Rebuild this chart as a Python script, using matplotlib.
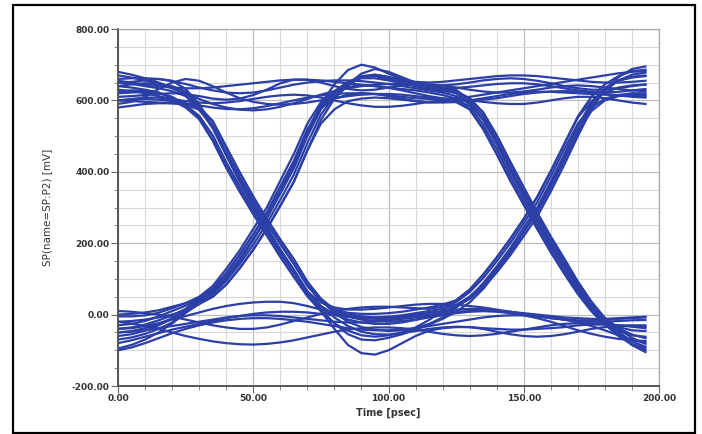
import numpy as np
import matplotlib.pyplot as plt
from matplotlib.patches import Rectangle
from matplotlib.ticker import MultipleLocator, FormatStrFormatter

# sample times (psec), one value every 5 ps for each trace
time_ps = np.arange(0, 200, 5)

# eye traces (mV)
tr01 = [-60, -55, -45, -30, -12, 8, 30, 58, 100, 150,
        210, 272, 345, 420, 510, 590, 645, 685, 700, 692,
        675, 660, 648, 640, 636, 635, 638, 642, 646, 648,
        648, 645, 640, 634, 628, 624, 622, 624, 628, 632]
tr02 = [-5, -5, -2, 5, 18, 32, 50, 80, 128, 180,
        240, 300, 375, 450, 535, 595, 625, 638, 642, 640,
        635, 628, 620, 612, 606, 602, 600, 602, 606, 612,
        618, 622, 625, 626, 625, 622, 618, 614, 610, 608]
tr03 = [-95, -85, -70, -50, -25, 5, 30, 50, 84, 130,
        182, 240, 305, 372, 460, 545, 605, 642, 665, 672,
        665, 655, 647, 643, 642, 645, 650, 656, 660, 662,
        660, 655, 648, 640, 634, 630, 630, 634, 640, 645]
tr04 = [-30, -26, -18, -5, 10, 25, 42, 66, 106, 156,
        212, 270, 340, 412, 502, 578, 625, 652, 662, 662,
        656, 648, 640, 634, 630, 620, 592, 545, 478, 402,
        332, 262, 196, 135, 74, 22, -20, -58, -85, -100]
tr05 = [0, 2, 6, 12, 22, 32, 45, 72, 116, 168,
        225, 285, 358, 430, 518, 578, 605, 616, 620, 618,
        612, 605, 598, 594, 596, 595, 575, 520, 450, 376,
        308, 240, 175, 115, 58, 10, -28, -45, -58, -62]
tr06 = [-70, -64, -54, -40, -22, 5, 35, 57, 95, 142,
        196, 255, 322, 392, 480, 560, 612, 646, 675, 688,
        680, 665, 650, 640, 634, 626, 606, 566, 502, 428,
        356, 285, 218, 156, 92, 36, -10, -50, -85, -105]
tr07 = [640, 636, 630, 622, 608, 585, 548, 488, 412, 345,
        282, 222, 162, 106, 52, 10, -40, -85, -108, -112,
        -100, -80, -60, -45, -38, -35, -35, -38, -40, -42,
        -42, -40, -38, -35, -30, -28, -28, -30, -32, -35]
tr08 = [600, 598, 596, 594, 592, 588, 574, 528, 455, 384,
        318, 256, 198, 142, 81, 38, 10, 2, -5, -8,
        -8, -5, 0, 5, 10, 14, 16, 15, 12, 6,
        0, -5, -10, -14, -18, -20, -20, -18, -16, -15]
tr09 = [680, 672, 662, 650, 636, 615, 578, 522, 446, 372,
        306, 244, 182, 126, 66, 24, -8, -32, -48, -55,
        -56, -52, -46, -40, -36, -34, -35, -40, -48, -55,
        -60, -62, -60, -55, -48, -40, -35, -32, -30, -30]
tr10 = [620, 622, 624, 620, 610, 588, 556, 502, 426, 358,
        294, 234, 174, 118, 61, 24, 1, -14, -22, -26,
        -26, -22, -15, -6, 4, 22, 44, 76, 118, 166,
        220, 275, 345, 420, 500, 575, 630, 665, 688, 695]
tr11 = [580, 585, 590, 592, 592, 590, 582, 542, 470, 398,
        330, 268, 210, 155, 92, 45, 14, 5, 2, 2,
        4, 8, 14, 20, 28, 40, 70, 112, 160, 212,
        268, 330, 402, 478, 552, 598, 622, 636, 642, 644]
tr12 = [650, 652, 656, 660, 655, 632, 590, 528, 448, 374,
        306, 244, 182, 124, 62, 15, -25, -55, -70, -72,
        -65, -55, -42, -28, -12, 8, 34, 72, 120, 172,
        232, 292, 362, 436, 512, 570, 600, 612, 614, 612]
tr13 = [610, 612, 615, 618, 620, 618, 612, 605, 602, 605,
        615, 630, 648, 658, 658, 650, 640, 632, 628, 630,
        636, 642, 645, 645, 642, 636, 630, 625, 622, 622,
        625, 630, 636, 640, 642, 640, 636, 632, 628, 626]
tr14 = [590, 596, 610, 632, 650, 660, 655, 640, 622, 606,
        596, 590, 588, 590, 594, 600, 606, 612, 616, 618,
        618, 616, 612, 608, 605, 600, 584, 532, 464, 389,
        320, 251, 186, 125, 66, 16, -20, -35, -44, -46]
tr15 = [670, 664, 656, 646, 634, 620, 604, 590, 580, 574,
        572, 575, 582, 592, 604, 616, 626, 634, 640, 644,
        646, 646, 644, 640, 636, 630, 599, 556, 490, 415,
        344, 274, 207, 146, 83, 29, -15, -48, -75, -90]
tr16 = [630, 626, 620, 612, 604, 598, 594, 592, 594, 598,
        604, 610, 614, 616, 614, 608, 600, 592, 586, 582,
        582, 585, 590, 596, 600, 602, 600, 596, 592, 590,
        590, 594, 600, 606, 610, 610, 606, 600, 594, 590]
tr17 = [-40, -38, -32, -24, -14, -4, 6, 16, 24, 30,
        34, 36, 36, 32, 24, 14, 4, -6, -14, -18,
        -20, -18, -14, -8, -2, 4, 8, 10, 10, 8,
        4, 0, -4, -8, -10, -12, -12, -10, -8, -6]
tr18 = [-20, -25, -32, -40, -50, -60, -68, -75, -80, -83,
        -84, -82, -78, -72, -64, -56, -48, -42, -38, -36,
        -36, -38, -42, -48, -54, -58, -60, -58, -54, -48,
        -42, -36, -30, -26, -24, -24, -26, -30, -34, -38]
tr19 = [-80, -72, -62, -52, -42, -34, -26, -18, -10, -4,
        2, 6, 8, 8, 6, 2, -2, -6, -8, -8,
        -6, -2, 4, 10, 16, 26, 50, 84, 128, 177,
        232, 288, 358, 434, 514, 585, 628, 656, 672, 678]
tr20 = [10, 8, 4, 0, -6, -14, -22, -30, -36, -40,
        -40, -36, -28, -18, -8, 2, 10, 16, 20, 22,
        22, 20, 18, 16, 22, 35, 63, 102, 149, 200,
        256, 315, 387, 463, 535, 580, 605, 615, 620, 620]
tr21 = [-40, -36, -28, -16, -2, 16, 45, 72, 116, 168,
        225, 285, 358, 430, 518, 585, 625, 651, 668, 672,
        666, 658, 652, 650, 652, 656, 660, 664, 668, 670,
        670, 668, 664, 660, 656, 652, 650, 650, 652, 655]
tr22 = [650, 646, 640, 634, 626, 612, 574, 528, 455, 384,
        318, 256, 198, 142, 81, 38, 10, -2, -10, -12,
        -12, -8, -4, 0, 4, 8, 10, 10, 8, 4,
        -2, -10, -20, -32, -44, -54, -62, -68, -72, -74]
tr23 = [600, 604, 608, 608, 600, 580, 548, 488, 412, 345,
        282, 222, 162, 106, 52, 10, -25, -45, -58, -62,
        -58, -50, -36, -15, 10, 40, 70, 112, 160, 212,
        268, 330, 402, 478, 555, 610, 645, 668, 682, 686]
tr24 = [660, 662, 662, 660, 654, 646, 636, 628, 622, 620,
        622, 628, 636, 644, 650, 654, 656, 656, 654, 650,
        646, 640, 634, 628, 622, 612, 590, 546, 480, 404,
        334, 264, 198, 138, 78, 28, -10, -38, -56, -66]
tr25 = [-20, -18, -14, -8, 0, 12, 30, 50, 84, 130,
        182, 240, 305, 372, 460, 535, 575, 598, 605, 608,
        606, 602, 598, 595, 594, 596, 600, 606, 612, 618,
        622, 624, 624, 622, 620, 618, 616, 615, 615, 616]
tr26 = [625, 628, 628, 622, 608, 585, 556, 502, 426, 358,
        294, 234, 174, 118, 64, 34, 20, 14, 14, 16,
        20, 24, 28, 30, 30, 28, 24, 20, 14, 8,
        2, -4, -10, -14, -16, -16, -14, -12, -10, -8]
tr27 = [600, 602, 604, 602, 598, 592, 586, 580, 576, 575,
        578, 584, 592, 600, 608, 614, 618, 620, 620, 618,
        614, 610, 606, 604, 604, 606, 610, 616, 622, 628,
        634, 640, 646, 652, 658, 664, 670, 676, 680, 682]
tr28 = [-100, -92, -80, -66, -52, -40, -30, -22, -16, -12,
        -10, -10, -12, -16, -20, -26, -32, -38, -42, -44,
        -44, -42, -38, -32, -26, -20, -14, -8, -4, -2,
        -2, -4, -8, -14, -22, -32, -44, -58, -70, -80]
tr29 = [-50, -46, -38, -26, -10, 12, 40, 64, 105, 155,
        210, 270, 340, 410, 500, 575, 620, 650, 665, 668,
        660, 650, 640, 632, 626, 622, 606, 566, 502, 428,
        356, 285, 218, 156, 92, 36, -10, -40, -65, -82]
tr30 = [640, 645, 648, 646, 640, 625, 582, 542, 470, 398,
        330, 268, 210, 155, 92, 40, 5, -20, -35, -42,
        -46, -44, -38, -26, -8, 20, 48, 88, 135, 186,
        244, 300, 372, 448, 528, 594, 635, 656, 666, 670]
tr31 = [-50, -48, -44, -38, -32, -26, -20, -14, -8, -4,
        -2, -2, -4, -8, -12, -16, -20, -22, -22, -20,
        -16, -12, -8, -4, 4, 26, 50, 84, 128, 177,
        232, 288, 358, 434, 514, 585, 630, 655, 664, 668]
tr32 = [655, 650, 644, 640, 636, 634, 634, 636, 640, 644,
        648, 652, 656, 658, 658, 656, 652, 648, 644, 640,
        636, 632, 628, 622, 615, 605, 575, 520, 450, 376,
        308, 240, 175, 115, 58, 10, -28, -60, -82, -95]

traces = [tr01, tr02, tr03, tr04, tr05, tr06, tr07, tr08, tr09, tr10, tr11, tr12,
          tr13, tr14, tr15, tr16, tr17, tr18, tr19, tr20, tr21, tr22, tr23, tr24,
          tr25, tr26, tr27, tr28, tr29, tr30, tr31, tr32]
for tr in traces:
    assert len(tr) == len(time_ps)

TRACE_COLOR = '#2b3fa6'
plt.rcParams['font.family'] = ['DejaVu Sans']

fig = plt.figure(figsize=(7.02, 4.34), dpi=100)
# outer frame
fig.patches.append(Rectangle((13/702, 1/434), 682/702, 428/434, transform=fig.transFigure,
                             fill=False, edgecolor='black', linewidth=1.6))

ax = fig.add_axes([118/702, 1 - 386/434, 541/702, 357/434])
for tr in traces:
    ax.plot(time_ps, tr, color=TRACE_COLOR, linewidth=1.6, solid_joinstyle='round')

ax.set_xlim(0, 200)
ax.set_ylim(-200, 800)
ax.xaxis.set_major_locator(MultipleLocator(50))
ax.xaxis.set_minor_locator(MultipleLocator(10))
ax.yaxis.set_major_locator(MultipleLocator(200))
ax.yaxis.set_minor_locator(MultipleLocator(50))
ax.xaxis.set_major_formatter(FormatStrFormatter('%.2f'))
ax.yaxis.set_major_formatter(FormatStrFormatter('%.2f'))

ax.grid(which='minor', color='#d9d9d9', linewidth=0.8)
ax.grid(which='major', color='#bdbdbd', linewidth=0.9)
ax.set_axisbelow(True)

for side in ['left', 'bottom']:
    ax.spines[side].set_color('#555555')
    ax.spines[side].set_linewidth(1.4)
for side in ['top', 'right']:
    ax.spines[side].set_color('#aaaaaa')
    ax.spines[side].set_linewidth(0.9)

ax.tick_params(which='major', length=5, width=0.8, color='#666666', labelsize=6.5, pad=1)
ax.tick_params(which='minor', length=3, width=0.7, color='#888888')
for lab in ax.get_xticklabels() + ax.get_yticklabels():
    lab.set_fontweight('bold')
    lab.set_color('#333333')

ax.set_xlabel('Time [psec]', fontsize=7, fontweight='bold', color='#333333', labelpad=3)
ax.set_ylabel('SP(name=SP:P2) [mV]', fontsize=7.5, color='#333333', labelpad=14)

fig.savefig('out.png', dpi=100)
